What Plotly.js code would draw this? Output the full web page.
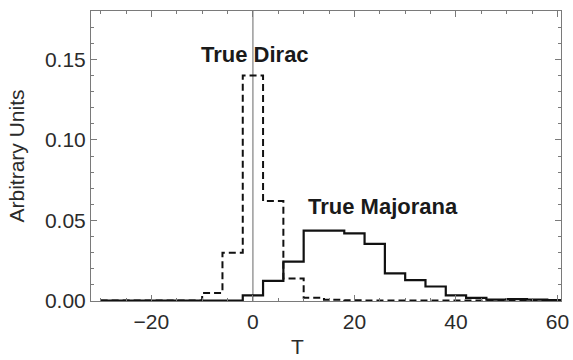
<!DOCTYPE html>
<html>
<head>
<meta charset="utf-8">
<script src="https://cdn.plot.ly/plotly-3.0.1.min.js"></script>
<style>html,body{margin:0;padding:0;background:#fff;}#chart{width:573px;height:360px;}</style>
</head>
<body>
<div id="chart"></div>
<script>
// Bin edges (width 4) and histogram heights
const binEdges = [-30,-26,-22,-18,-14,-10,-6,-2,2,6,10,14,18,22,26,30,34,38,42,46,50,54,58,62];
const diracValues = [0.0003,0.0003,0.0003,0.0003,0.0003,0.005,0.030,0.140,0.062,0.014,0.002,0.0008,0.0004,0.0003,0.0003,0.0003,0.0003,0.0003,0.0003,0.0003,0.0003,0.0003,0.0003];
const majoranaValues = [0.0003,0.0003,0.0003,0.0003,0.0003,0.0003,0.0003,0.0035,0.0125,0.0245,0.0437,0.0437,0.0420,0.0355,0.0172,0.0130,0.0090,0.0035,0.0020,0.0008,0.0012,0.0008,0.0005];
const seriesLabels = ["True Dirac", "True Majorana"];
const xTitle = "T";
const yTitle = "Arbitrary Units";

function stepY(vals){ return vals.concat([vals[vals.length-1]]); }

const font = "Liberation Sans, Arial, Helvetica, sans-serif";
const axisCol = "#7a7a7a";
const textCol = "#2b2b2b";

const traces = [
  {x: binEdges, y: stepY(diracValues), type: "scatter", mode: "lines", line: {shape: "hv", color: "#111", width: 2, dash: "7px,4px"}, name: seriesLabels[0], hoverinfo: "skip"},
  {x: binEdges, y: stepY(majoranaValues), type: "scatter", mode: "lines", line: {shape: "hv", color: "#111", width: 2.2}, name: seriesLabels[1], hoverinfo: "skip"}
];

const layout = {
  width: 573, height: 360,
  margin: {l: 91, r: 12, t: 11, b: 59},
  paper_bgcolor: "#fff", plot_bgcolor: "#fff",
  showlegend: false,
  font: {family: font, size: 21, color: textCol},
  xaxis: {
    range: [-31.9, 60.7], tickmode: "array", tickvals: [-20, 0, 20, 40, 60],
    ticks: "inside", ticklen: 6, tickwidth: 1, tickcolor: axisCol,
    showline: true, linecolor: axisCol, linewidth: 1, mirror: "ticks",
    showgrid: false, zeroline: false, ticklabelstandoff: 2,
    tickfont: {family: font, size: 21, color: textCol},
    minor: {ticks: "inside", dtick: 5, tick0: 0, ticklen: 3, tickcolor: axisCol, showgrid: false}
  },
  yaxis: {
    range: [0, 0.18], tickmode: "array", tickvals: [0, 0.05, 0.10, 0.15], ticktext: ["0.00","0.05","0.10","0.15"],
    ticks: "inside", ticklen: 6, tickwidth: 1, tickcolor: axisCol,
    showline: true, linecolor: axisCol, linewidth: 1, mirror: "ticks",
    showgrid: false, zeroline: false,
    tickfont: {family: font, size: 21, color: textCol},
    minor: {ticks: "inside", dtick: 0.01, tick0: 0, ticklen: 3, tickcolor: axisCol, showgrid: false},
    title: {text: yTitle, font: {family: font, size: 21, color: textCol}, standoff: 14}
  },
  shapes: [
    {type: "line", xref: "x", yref: "paper", x0: 0, x1: 0, y0: 0, y1: 1, line: {color: "#8a8a8a", width: 1.3}, layer: "below"}
  ],
  annotations: [
    {text: "<b>" + seriesLabels[0] + "</b>", x: 0.5, y: 0.153, xref: "x", yref: "y", showarrow: false, font: {family: font, size: 22, color: "#1a1a1a"}},
    {text: "<b>" + seriesLabels[1] + "</b>", x: 25.7, y: 0.0586, xref: "x", yref: "y", showarrow: false, font: {family: font, size: 22, color: "#1a1a1a"}},
    {text: xTitle, x: 0.44, y: 0, xref: "paper", yref: "paper", yanchor: "middle", yshift: -45, borderpad: 0, showarrow: false, font: {family: font, size: 21, color: textCol}}
  ]
};

Plotly.newPlot("chart", traces, layout, {staticPlot: true, displayModeBar: false});
</script>
</body>
</html>
